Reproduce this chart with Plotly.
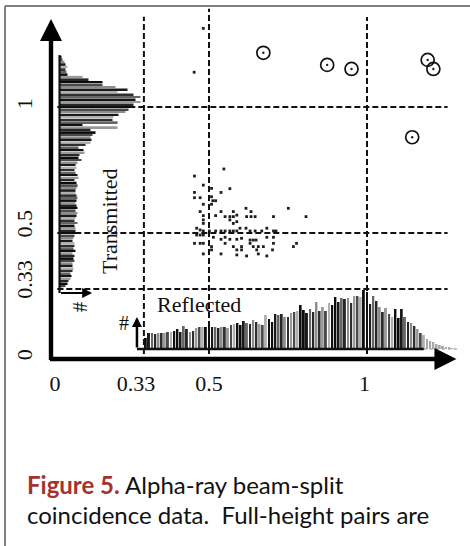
import plotly.graph_objects as go

# ---------------- data ----------------
# x / y tick labels (label anchor positions)
x_tick_vals = [0.013, 0.269, 0.5, 0.992]
x_tick_text = ["0", "0.33", "0.5", "1"]
y_tick_vals = [0.004, 0.302, 0.524, 1.0]
y_tick_text = ["0", "0.33", "0.5", "1"]

# guide (dashed) lines, in the chart's own axis units
guide_x = [0.294, 0.5, 1.0]
guide_y = [0.278, 0.5, 1.0]

# scatter: coincidence points (reflected, transmitted)
dots_x = [0.454, 0.547, 0.482, 0.454, 0.508, 0.538, 0.566, 0.454, 0.472, 0.482, 0.508, 0.512, 0.521, 0.508,
          0.472, 0.482, 0.538, 0.521, 0.551, 0.566, 0.577, 0.577, 0.588, 0.617, 0.633, 0.646, 0.633, 0.619,
          0.704, 0.751, 0.807, 0.482, 0.482, 0.566, 0.577, 0.588, 0.461, 0.472, 0.482, 0.501, 0.521, 0.538,
          0.551, 0.566, 0.577, 0.588, 0.598, 0.617, 0.630, 0.646, 0.667, 0.683, 0.704, 0.712, 0.461, 0.472,
          0.482, 0.514, 0.538, 0.551, 0.566, 0.588, 0.603, 0.630, 0.640, 0.649, 0.683, 0.704, 0.454, 0.472,
          0.482, 0.508, 0.551, 0.577, 0.603, 0.630, 0.640, 0.656, 0.672, 0.704, 0.767, 0.777, 0.482, 0.508,
          0.538, 0.588, 0.588, 0.603, 0.619, 0.651, 0.656, 0.683, 0.701, 0.482, 0.453]
dots_y = [0.726, 0.754, 0.690, 0.661, 0.677, 0.661, 0.676, 0.640, 0.640, 0.614, 0.644, 0.628, 0.628, 0.614,
          0.585, 0.569, 0.585, 0.569, 0.565, 0.565, 0.585, 0.565, 0.571, 0.598, 0.585, 0.565, 0.565, 0.565,
          0.565, 0.598, 0.565, 0.552, 0.538, 0.552, 0.538, 0.545, 0.519, 0.512, 0.508, 0.508, 0.508, 0.508,
          0.508, 0.508, 0.508, 0.508, 0.519, 0.519, 0.508, 0.508, 0.508, 0.519, 0.508, 0.508, 0.492, 0.492,
          0.492, 0.483, 0.475, 0.483, 0.475, 0.475, 0.479, 0.472, 0.472, 0.472, 0.483, 0.483, 0.459, 0.459,
          0.459, 0.446, 0.459, 0.446, 0.446, 0.459, 0.446, 0.446, 0.446, 0.459, 0.446, 0.459, 0.417, 0.433,
          0.417, 0.433, 0.413, 0.433, 0.409, 0.433, 0.417, 0.409, 0.433, 1.312, 1.138]

# full-height pairs (circled)
pairs_x = [0.672, 0.874, 0.951, 1.192, 1.210, 1.143]
pairs_y = [1.215, 1.167, 1.151, 1.187, 1.151, 0.880]

# transmitted histogram (bin centre, count)
trans_y = [1.20, 1.19, 1.18, 1.17, 1.16, 1.15, 1.14, 1.13, 1.12, 1.11, 1.10, 1.09, 1.08, 1.07, 1.06, 1.05,
           1.04, 1.03, 1.02, 1.01, 1.00, 0.99, 0.98, 0.97, 0.96, 0.95, 0.94, 0.93, 0.92, 0.91, 0.90, 0.89,
           0.88, 0.87, 0.86, 0.85, 0.84, 0.83, 0.82, 0.81, 0.80, 0.79, 0.78, 0.77, 0.76, 0.75, 0.74, 0.73,
           0.72, 0.71, 0.70, 0.69, 0.68, 0.67, 0.66, 0.65, 0.64, 0.63, 0.62, 0.61, 0.60, 0.59, 0.58, 0.57,
           0.56, 0.55, 0.54, 0.53, 0.52, 0.51, 0.50, 0.49, 0.48, 0.47, 0.46, 0.45, 0.44, 0.43, 0.42, 0.41,
           0.40, 0.39, 0.38, 0.37, 0.36, 0.35, 0.34, 0.33, 0.32, 0.31, 0.30, 0.29, 0.28]
trans_counts = [2, 3, 5, 6, 8, 6, 7, 8, 23, 29, 43, 43, 56, 68, 58, 74,
                81, 76, 81, 74, 73, 69, 66, 59, 54, 53, 58, 23, 58, 31, 36, 33,
                31, 32, 31, 26, 19, 24, 25, 20, 19, 22, 18, 16, 17, 15, 16, 18,
                19, 15, 17, 18, 17, 16, 16, 17, 18, 17, 16, 17, 18, 16, 18, 17,
                16, 15, 18, 15, 16, 16, 17, 15, 14, 13, 15, 15, 14, 16, 13, 15,
                14, 15, 13, 13, 14, 13, 11, 12, 11, 9, 8, 6, 4]

# reflected histogram (bin centre, count)
refl_x = [0.30, 0.31, 0.32, 0.33, 0.34, 0.35, 0.36, 0.37, 0.38, 0.39, 0.40, 0.41, 0.42, 0.43, 0.44, 0.45,
          0.46, 0.47, 0.48, 0.49, 0.50, 0.51, 0.52, 0.53, 0.54, 0.55, 0.56, 0.57, 0.58, 0.59, 0.60, 0.61,
          0.62, 0.63, 0.64, 0.65, 0.66, 0.67, 0.68, 0.69, 0.70, 0.71, 0.72, 0.73, 0.74, 0.75, 0.76, 0.77,
          0.78, 0.79, 0.80, 0.81, 0.82, 0.83, 0.84, 0.85, 0.86, 0.87, 0.88, 0.89, 0.90, 0.91, 0.92, 0.93,
          0.94, 0.95, 0.96, 0.97, 0.98, 0.99, 1.00, 1.01, 1.02, 1.03, 1.04, 1.05, 1.06, 1.07, 1.08, 1.09,
          1.10, 1.11, 1.12, 1.13, 1.14, 1.15, 1.16, 1.17, 1.18, 1.19, 1.20, 1.21, 1.22, 1.23, 1.24, 1.25,
          1.26, 1.27]
refl_counts = [11, 16, 16, 15, 16, 16, 16, 17, 17, 18, 20, 17, 23, 20, 17, 18,
               21, 22, 22, 22, 23, 22, 22, 21, 22, 22, 21, 24, 25, 26, 24, 28,
               26, 25, 29, 27, 25, 24, 34, 30, 27, 35, 34, 35, 32, 32, 36, 37,
               38, 44, 39, 36, 40, 37, 47, 38, 42, 38, 46, 44, 52, 47, 51, 50,
               51, 46, 53, 53, 52, 59, 57, 45, 53, 48, 42, 37, 41, 35, 32, 40,
               31, 40, 32, 27, 26, 23, 20, 16, 14, 10, 8, 7, 5, 4, 3, 2,
               2, 1]

# ---------------- styling ----------------
SERIF = "Liberation Serif"
shades = ["#0d0d0d", "#4a4a4a", "#8c8c8c", "#1a1a1a", "#b0b0b0", "#2e2e2e", "#666666", "#111111", "#9a9a9a", "#262626"]
trans_colors = [shades[i % len(shades)] for i in range(len(trans_y))]
refl_colors = [shades[(i * 3) % len(shades)] if x <= 1.18 else "#a8a8a8" for i, x in enumerate(refl_x)]

W, H = 470, 546
X0_PX, X_SCALE = 51, 316      # pixel of x=0, pixels per unit
Y0_PX, Y_SCALE = 359, 252     # pixel of y=0, pixels per unit

fig = go.Figure()

# transmitted histogram (horizontal bars, own count axis)
fig.add_trace(go.Bar(orientation="h", x=trans_counts, y=trans_y, xaxis="x2", yaxis="y",
                     width=0.0072, marker=dict(color=trans_colors, line=dict(width=0)),
                     hoverinfo="skip", showlegend=False))
# reflected histogram (vertical bars, own count axis)
fig.add_trace(go.Bar(x=refl_x, y=refl_counts, xaxis="x", yaxis="y2",
                     width=0.0062, marker=dict(color=refl_colors, line=dict(width=0)),
                     hoverinfo="skip", showlegend=False))
# scatter dots
fig.add_trace(go.Scatter(x=dots_x, y=dots_y, mode="markers",
                         marker=dict(size=2.8, color="#1e1e1e", symbol="square"),
                         showlegend=False, hoverinfo="skip"))
# circled full-height pairs
fig.add_trace(go.Scatter(x=pairs_x, y=pairs_y, mode="markers",
                         marker=dict(size=13, symbol="circle-open", color="#111", line=dict(width=1.7, color="#111")),
                         showlegend=False, hoverinfo="skip"))
fig.add_trace(go.Scatter(x=pairs_x, y=pairs_y, mode="markers",
                         marker=dict(size=2.4, color="#222"),
                         showlegend=False, hoverinfo="skip"))

shapes = []
dash = "6px,3px"
# vertical guides
v_top = {0.294: 1.358, 0.5: 1.39, 1.0: 1.357}
for gx in guide_x:
    shapes.append(dict(type="line", xref="x", yref="y", x0=gx, x1=gx, y0=-0.016, y1=v_top[gx],
                       line=dict(color="#111", width=2, dash=dash)))
# horizontal guides
for gy in guide_y:
    shapes.append(dict(type="line", xref="x", yref="y", x0=0.02, x1=1.255, y0=gy, y1=gy,
                       line=dict(color="#111", width=2, dash=dash)))
# transmitted histogram baseline
shapes.append(dict(type="line", xref="x", yref="y", x0=0.027, x1=0.027, y0=0.262, y1=1.206,
                   line=dict(color="#111", width=2.2)))
# reflected histogram baseline + tail
shapes.append(dict(type="line", xref="x", yref="y", x0=0.272, x1=1.18, y0=0.0397, y1=0.0397,
                   line=dict(color="#111", width=2.5)))
shapes.append(dict(type="line", xref="x", yref="y", x0=1.18, x1=1.285, y0=0.0397, y1=0.0397,
                   line=dict(color="#aaaaaa", width=1.5, dash="dot")))
# frame
shapes.append(dict(type="line", xref="paper", yref="paper", x0=5 / W, x1=1.01, y0=1 - 6 / H, y1=1 - 6 / H,
                   line=dict(color="#7f7f7f", width=2)))
shapes.append(dict(type="line", xref="paper", yref="paper", x0=5 / W, x1=5 / W, y0=-0.01, y1=1 - 6 / H,
                   line=dict(color="#7f7f7f", width=2)))

annotations = []
def arrow(x0, y0, x1, y1, width, size):
    annotations.append(dict(x=x1, y=y1, ax=x0, ay=y0, xref="x", yref="y", axref="x", ayref="y",
                            text="", showarrow=True, arrowhead=2, arrowwidth=width, arrowsize=size,
                            arrowcolor="#000"))

arrow(-0.008, 0.0, 1.283, 0.0, 4.4, 1.0)       # main x axis
arrow(0.0, -0.01, 0.0, 1.349, 4.4, 1.0)        # main y axis
arrow(0.027, 0.262, 0.130, 0.262, 2.2, 0.9)    # transmitted count axis
arrow(0.272, 0.0397, 0.272, 0.1667, 2.5, 0.8)  # reflected count axis

def label(text, x, y, size, angle=0):
    annotations.append(dict(x=x, y=y, xref="x", yref="y", text=text, showarrow=False, textangle=angle,
                            font=dict(family=SERIF, size=size, color="#111")))

label("Transmitted", 0.1835, 0.5476, 22, -90)
label("Reflected", 0.467, 0.218, 22)
label("#", 0.231, 0.143, 20)
label("#", 0.0918, 0.206, 20, -90)

# caption
annotations.append(dict(xref="paper", yref="paper", x=25 / W, y=1 - 484 / H, xanchor="left", yanchor="middle",
                        showarrow=False, align="left",
                        text="<b><span style='color:#a4322f'>Figure 5.</span></b> Alpha-ray beam-split",
                        font=dict(family="Lato", size=24, color="#111")))
annotations.append(dict(xref="paper", yref="paper", x=25 / W, y=1 - 514 / H, xanchor="left", yanchor="middle",
                        showarrow=False, align="left",
                        text="coincidence data.  Full-height pairs are",
                        font=dict(family="Lato", size=24, color="#111")))

fig.update_layout(
    width=W, height=H, margin=dict(l=0, r=0, t=0, b=0),
    paper_bgcolor="white", plot_bgcolor="white", barmode="overlay", showlegend=False,
    xaxis=dict(domain=[X0_PX / W, 1], range=[0, (W - X0_PX) / X_SCALE], showgrid=False, zeroline=False,
               showline=False, tickvals=x_tick_vals, ticktext=x_tick_text, ticks="outside", ticklen=5,
               tickcolor="rgba(0,0,0,0)", tickfont=dict(family=SERIF, size=22, color="#111"),
               automargin=False, fixedrange=True),
    yaxis=dict(domain=[(H - Y0_PX) / H, 1], range=[0, Y0_PX / Y_SCALE], showgrid=False, zeroline=False,
               showline=False, tickvals=y_tick_vals, ticktext=y_tick_text, ticks="outside", ticklen=9,
               tickcolor="rgba(0,0,0,0)", tickangle=-90, tickfont=dict(family=SERIF, size=22, color="#111"),
               automargin=False, fixedrange=True),
    xaxis2=dict(overlaying="x", anchor="y", range=[-(59.5 - X0_PX), (W - X0_PX) - (59.5 - X0_PX)],
                visible=False, fixedrange=True),
    yaxis2=dict(overlaying="y", anchor="x", range=[-10, Y0_PX - 10], visible=False, fixedrange=True),
    shapes=shapes, annotations=annotations,
)

fig.write_html("out.html")
